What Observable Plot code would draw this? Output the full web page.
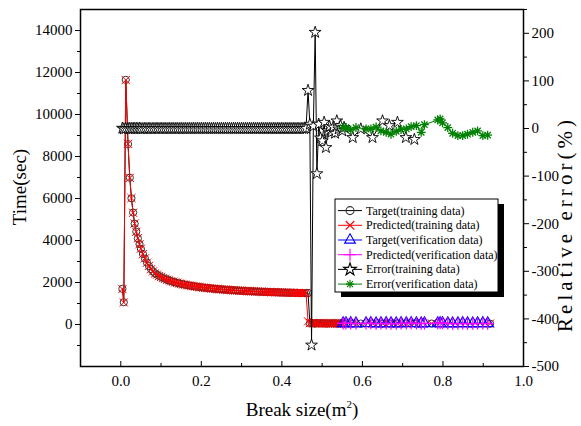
<!DOCTYPE html>
<html><head><meta charset="utf-8">
<script src="https://cdn.jsdelivr.net/npm/d3@7"></script>
<script src="https://cdn.jsdelivr.net/npm/@observablehq/plot@0.6"></script>
<style>
body{margin:0;background:#fff;}
#chart{position:relative;width:581px;height:426px;}
#chart svg text, #chart svg tspan{font-family:'Liberation Serif','Times New Roman',serif !important;}
</style></head><body><div id="chart"></div>
<script>
// ---- data ----
const trainX = [0.004,0.0075,0.0124,0.018,0.0224,0.0265,0.0306,0.0345,0.0385,0.0425,0.0465,0.05,
0.055,0.06,0.065,0.07,0.075,0.08,0.085,0.09,0.095,0.1,0.105,0.11,0.115,0.12,0.125,0.13,0.135,0.14,0.145,0.15,
0.155,0.16,0.165,0.17,0.175,0.18,0.185,0.19,0.195,0.2,0.205,0.21,0.215,0.22,0.225,0.23,0.235,0.24,0.245,0.25,
0.255,0.26,0.265,0.27,0.275,0.28,0.285,0.29,0.295,0.3,0.305,0.31,0.315,0.32,0.325,0.33,0.335,0.34,0.345,0.35,
0.355,0.36,0.365,0.37,0.375,0.38,0.385,0.39,0.395,0.4,0.405,0.41,0.415,0.42,0.425,0.43,0.435,0.44,0.445,0.45,
0.455,0.46,0.465,
0.4695,0.4737,0.4782,0.4827,0.487,0.4915,0.496,0.5005,0.505,0.5095,0.514,0.5185,0.523,0.5275,0.532,0.5365,0.541,0.5455,0.55,0.5545,
0.576,0.596,0.625,0.65,0.667,0.687,0.708,0.729,0.772,0.917];
const trainTarget = [1700,1060,11650,8590,6990,6010,5330,4800,4420,4100,3830,3600,
3360,3140,2950,2780,2640,2525,2433,2369,2312,2260,2213,2171,2132,2097,2064,2034,2006,1980,1956,1933,
1912,1893,1874,1856,1840,1824,1810,1796,1783,1770,1758,1747,1736,1725,1716,1706,1697,1688,1680,1672,
1664,1657,1650,1643,1636,1630,1624,1618,1612,1607,1601,1596,1591,1586,1582,1577,1573,1568,1564,1560,
1556,1552,1548,1545,1541,1538,1535,1531,1528,1525,1522,1519,1516,1513,1511,1508,1505,1503,1500,1498,
1495,1493,1505,
60,75,55,40,70,55,65,50,60,45,55,50,60,50,55,45,50,55,50,45,
50,45,50,40,45,50,45,50,45,40];
const trainPredicted = [1690,1050,11640,8600,6980,6020,5320,4810,4410,4110,3820,3610,
3350,3150,2940,2790,2630,2530,2428,2375,2305,2266,2208,2176,2127,2102,2060,2038,2002,1984,1951,1937,
1908,1897,1870,1860,1836,1828,1806,1800,1779,1774,1754,1751,1732,1729,1712,1710,1693,1692,1676,1676,
1660,1661,1646,1647,1632,1634,1620,1622,1608,1611,1597,1600,1587,1590,1578,1581,1569,1572,1560,1564,
1552,1556,1544,1549,1537,1542,1531,1535,1524,1529,1518,1523,1512,1517,1507,1512,1501,1507,1496,1502,
1491,1497,150,
65,70,60,45,65,60,60,55,55,50,50,55,55,55,50,50,55,50,55,50,
55,50,45,45,50,45,50,45,50,45];
const errTrain = [0.6,-0.9,0.1,-0.1,0.1,-0.2,0.2,-0.2,0.2,-0.2,0.3,-0.3,
-0.3,0.3,-0.3,0.4,-0.4,0.2,-0.2,0.3,-0.3,0.3,-0.2,0.2,-0.2,0.2,-0.2,0.2,-0.2,0.2,-0.3,0.2,
-0.2,0.2,-0.2,0.2,-0.2,0.2,-0.2,0.2,-0.2,0.2,-0.2,0.2,-0.2,0.2,-0.2,0.2,-0.2,0.2,-0.2,0.2,
-0.2,0.2,-0.2,0.2,-0.2,0.2,-0.2,0.2,-0.2,0.2,-0.2,0.2,-0.2,0.2,-0.2,0.2,-0.2,0.2,-0.2,0.2,
-0.2,0.2,-0.2,0.2,-0.2,0.2,-0.2,0.2,-0.2,0.2,-0.2,0.2,-0.2,0.2,-0.2,0.2,-0.2,0.2,-0.2,0.2,
-0.3,0.3,80,
9,-455,5,202,-95,9,-20,-26,13,-40,-5,4,-8,3,-10,16,-1,6,-5,2,
-19,-1,-19,16,6,13,-19,-23,null,null];

const verX = [0.552,0.559,0.571,0.584,0.609,0.621,0.634,0.646,0.659,0.671,0.684,0.696,0.709,0.721,0.734,0.746,0.754,
0.787,0.793,0.799,0.812,0.824,0.837,0.849,0.861,0.874,0.886,0.899,0.911];
const verTarget = [50,50,55,45,50,60,45,50,55,50,45,55,50,60,50,45,50,50,55,55,50,45,50,55,50,45,50,55,50];
const verPredicted = [51,52,53,46,50,59,44,47,52,44,43,54,50,62,53,41,54,59,60,62,51,41,43,47,44,41,48,47,44];
const errVer = [2,2,-3,2,-1,-1,3,-5,-8,-12,-6,-2,-1,4,6,-8,8,18,20,12,2,-10,-15,-15,-12,-8,-5,-15,-14];

const xTicks = [0.0,0.2,0.4,0.6,0.8,1.0];
const xMinor = [-0.1,0.1,0.3,0.5,0.7,0.9];
const leftTicks = [0,2000,4000,6000,8000,10000,12000,14000];
const leftMinor = [-1000,1000,3000,5000,7000,9000,11000,13000];
const rightTicks = [-500,-400,-300,-200,-100,0,100,200];
const rightMinor = [-450,-350,-250,-150,-50,50,150,250];
const legendLabels = ["Target(training data)","Predicted(training data)","Target(verification data)",
  "Predicted(verification data)","Error(training data)","Error(verification data)"];

// ---- build ----
const errToTime = d3.scaleLinear([-500, 250], [-2000, 15000]);
const train = trainX.map((x, i) => ({x, target: trainTarget[i], predicted: trainPredicted[i],
  err: errTrain[i] == null ? null : errToTime(errTrain[i])}));
const ver = verX.map((x, i) => ({x, target: verTarget[i], predicted: verPredicted[i], err: errToTime(errVer[i])}));

// 8-armed asterisk (Origin style)
const asterisk8 = {draw(ctx, size) {
  const r = Math.sqrt(size) * 0.6;
  for (let k = 0; k < 4; k++) {
    const a = k * Math.PI / 4, dx = r * Math.cos(a), dy = r * Math.sin(a);
    ctx.moveTo(-dx, -dy); ctx.lineTo(dx, dy);
  }
}};

const serif = "Liberation Serif, serif";
const svg = Plot.plot({
  width: 581, height: 426,
  marginLeft: 80, marginRight: 58, marginTop: 9, marginBottom: 60,
  style: {fontFamily: serif, fontSize: "15px", color: "#000", background: "#fff", overflow: "visible"},
  x: {domain: [-0.1, 1.0], label: null},
  y: {domain: [-2000, 15000], label: null},
  marks: [
    Plot.axisY(leftTicks, {anchor: "left", tickSize: 5, tickPadding: 3, fontSize: 15, tickFormat: d => String(d)}),
    Plot.axisY(leftMinor, {anchor: "left", tickSize: 3, tickFormat: () => ""}),
    Plot.axisY(rightTicks.map(errToTime), {anchor: "right", tickSize: 5, tickPadding: 3, fontSize: 15,
      tickFormat: d => String(Math.round(errToTime.invert(d)))}),
    Plot.axisY(rightMinor.map(errToTime), {anchor: "right", tickSize: 3, tickFormat: () => ""}),
    Plot.axisX(xTicks, {anchor: "bottom", tickSize: -5, tickFormat: () => ""}),
    Plot.axisX(xMinor, {anchor: "bottom", tickSize: -3, tickFormat: () => ""}),
    Plot.axisX(xTicks, {anchor: "bottom", tickSize: 0, tickPadding: 9, fontSize: 15, tickFormat: d => d.toFixed(1)}),
    // training time
    Plot.line(train, {x: "x", y: "target", stroke: "#000", strokeWidth: 1}),
    Plot.dot(train, {x: "x", y: "target", symbol: "circle", r: 3.6, stroke: "#333", fill: "none", strokeWidth: 1}),
    Plot.line(train, {x: "x", y: "predicted", stroke: "#ff0000", strokeWidth: 1}),
    Plot.dot(train, {x: "x", y: "predicted", symbol: "times", r: 3.8, stroke: "#ff0000", strokeWidth: 1}),
    // verification time
    Plot.line(ver, {x: "x", y: "target", stroke: "#0000ff", strokeWidth: 1}),
    Plot.dot(ver, {x: "x", y: "target", symbol: "triangle", r: 4.2, stroke: "#0000ff", fill: "none", strokeWidth: 1.2}),
    Plot.line(ver, {x: "x", y: "predicted", stroke: "#ff00ff", strokeWidth: 1}),
    Plot.dot(ver, {x: "x", y: "predicted", symbol: "plus", r: 4, stroke: "#ff00ff", strokeWidth: 1.2}),
    // errors (right axis)
    Plot.line(train, {x: "x", y: "err", stroke: "#000", strokeWidth: 1}),
    Plot.dot(train, {x: "x", y: "err", symbol: "star", r: 3.7, stroke: "#000", fill: "#fff", strokeWidth: 0.9}),
    Plot.line(ver, {x: "x", y: "err", stroke: "#008000", strokeWidth: 1}),
    Plot.dot(ver, {x: "x", y: "err", symbol: asterisk8, r: 4.2, stroke: "#008000", strokeWidth: 1.3}),
    Plot.frame({stroke: "#000", strokeWidth: 1.5})
  ]
});

const s = d3.select(svg);
// axis titles
s.append("text").attr("transform", "translate(26,187) rotate(-90)")
  .attr("text-anchor", "middle").attr("font-size", 19).attr("fill", "#000").text("Time(sec)");
s.append("text").attr("transform", "translate(572,226) rotate(-90)")
  .attr("text-anchor", "middle").attr("font-size", 21).attr("fill", "#000")
  .attr("textLength", 212).attr("lengthAdjust", "spacing").text("Relative error(%)");
const xl = s.append("text").attr("x", 302).attr("y", 416).attr("text-anchor", "middle")
  .attr("font-size", 19).attr("fill", "#000");
xl.append("tspan").text("Break size(m");
xl.append("tspan").attr("dy", -8).attr("font-size", 11).text("2");
xl.append("tspan").attr("dy", 8).text(")");

// legend
const lg = s.append("g");
const bx = 335, by = 199, bw = 163, bh = 93;
lg.append("rect").attr("x", bx + 6).attr("y", by + 5).attr("width", bw).attr("height", bh).attr("fill", "#000");
lg.append("rect").attr("x", bx).attr("y", by).attr("width", bw).attr("height", bh).attr("fill", "#fff").attr("stroke", "#000");
const specs = [
  {c: "#000", ms: "#333", sym: d3.symbolCircle, fill: "none"},
  {c: "#ff0000", ms: "#ff0000", sym: d3.symbolTimes, fill: "none"},
  {c: "#0000ff", ms: "#0000ff", sym: d3.symbolTriangle, fill: "none"},
  {c: "#ff00ff", ms: "#ff00ff", sym: d3.symbolPlus, fill: "none"},
  {c: "#000", ms: "#000", sym: d3.symbolStar, fill: "#fff"},
  {c: "#008000", ms: "#008000", sym: asterisk8, fill: "none"}
];
legendLabels.forEach((t, i) => {
  const y = by + 11.6 + i * 14.7;
  lg.append("line").attr("x1", bx + 3).attr("x2", bx + 27).attr("y1", y).attr("y2", y).attr("stroke", specs[i].c);
  lg.append("path").attr("transform", `translate(${bx + 15},${y})`)
    .attr("d", d3.symbol(specs[i].sym, 50)()).attr("stroke", specs[i].ms).attr("fill", specs[i].fill).attr("stroke-width", 1.1);
  lg.append("text").attr("x", bx + 31).attr("y", y + 4).attr("text-anchor", "start")
    .attr("font-size", 12).attr("fill", "#000").text(t);
});

document.getElementById("chart").appendChild(svg);
</script>
</body></html>
